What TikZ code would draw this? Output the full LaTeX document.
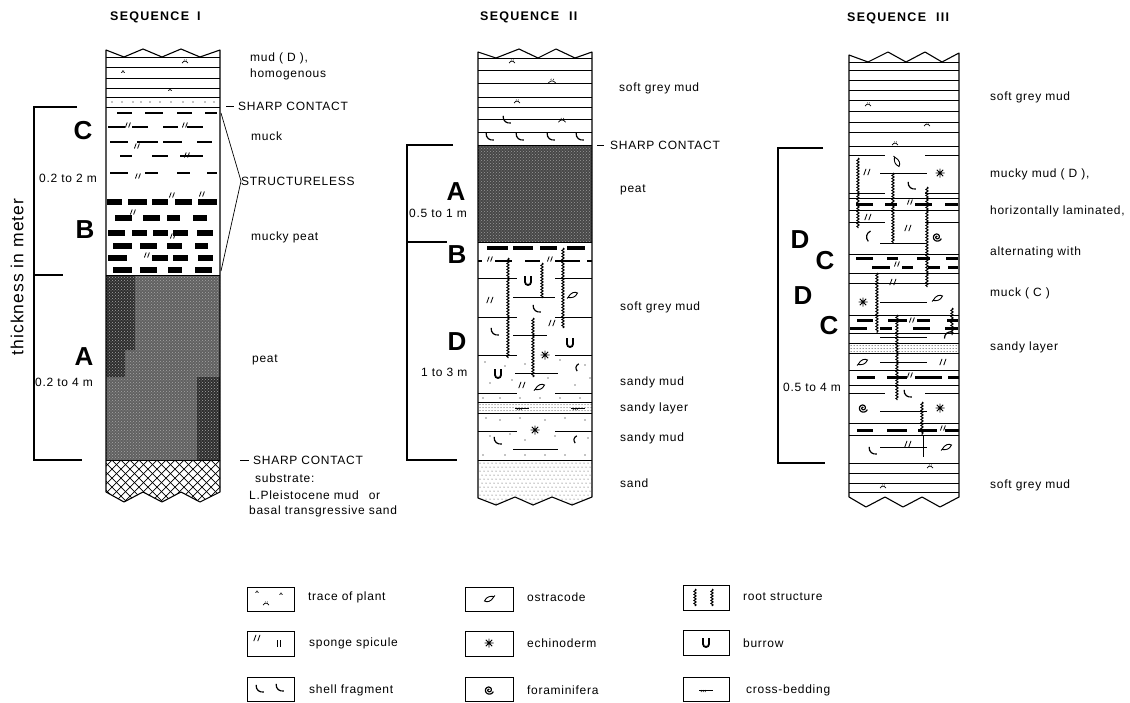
\documentclass[tikz,border=0pt]{standalone}
\usepackage{fontspec}
\setmainfont{Liberation Sans}
\newfontfamily\labfont[LetterSpace=6]{Liberation Sans}
\newfontfamily\titfont[LetterSpace=10]{Liberation Sans}
\usetikzlibrary{patterns,decorations.pathmorphing}
\tikzset{
 lab/.style={font=\labfont\fontsize{12}{14}\selectfont, anchor=west, inner sep=0pt},
 biglet/.style={font=\bfseries\fontsize{26}{28}\selectfont, inner sep=0pt},
 tit/.style={font=\titfont\bfseries\fontsize{12.5}{14}\selectfont, anchor=west, inner sep=0pt},
 side/.style={line width=1.1pt, line join=round},
 thinl/.style={line width=0.7pt},
 brk/.style={line width=1.1pt},
 mk/.style={line width=2.8pt},
 mkp/.style={line width=5.2pt},
 mk3/.style={line width=3pt},
 rootl/.style={line width=1pt, decorate, decoration={snake, amplitude=1.1pt, segment length=3pt}},
 legbox/.style={line width=0.9pt},
 symplant/.pic={\draw[line width=0.7pt] (-3,1) .. controls (-1,-1.5) and (1,-1.5) .. (3,1); \draw[line width=0.5pt] (-1,-1.5)--(-0.5,-2.5) (1,-1.5)--(1.5,-2.5);},
 symsponge/.pic={\begin{scope}[scale=1.25]\draw[line width=0.8pt] (-2.6,2.5)--(-0.8,-2.5) (0.6,2.5)--(2.4,-2.5);\end{scope}},
 symshell/.pic={\begin{scope}[scale=1.3]\draw[line width=1.2pt] (-3,-4) .. controls (-3.2,0) and (-0.5,2) .. (3,1.5);\end{scope}},
 symostra/.pic={\draw[line width=0.9pt] (-5,2.5) .. controls (-2,-3) and (2,-3.5) .. (4.5,-2) .. controls (2.5,2.5) and (-1,3) .. (-5,2.5) -- (-6,3.5);},
 symechino/.pic={\draw[line width=0.9pt] (-4.5,0)--(4.5,0) (0,-4.5)--(0,4.5) (-3.2,-3.2)--(3.2,3.2) (-3.2,3.2)--(3.2,-3.2);},
 symfora/.pic={\draw[line width=1.2pt,domain=60:700,samples=60,smooth,variable=\t] plot ({0.0065*\t*cos(\t)},{-0.0065*\t*sin(\t)});},
 symburrow/.pic={\draw[line width=1.8pt] (-3,-5) -- (-3,1) arc (180:0:3) -- (3,-5);},
 symxbed/.pic={\draw[line width=0.9pt] (-7,0)--(7,0); \draw[line width=0.6pt] (-5,2)--(-4,0) (-3,2)--(-2,0) (-1,2)--(0,0);},
}
\begin{document}
\begin{tikzpicture}[x=1pt,y=-1pt]
\useasboundingbox (0,0) rectangle (1130,702);

% ================= SEQUENCE I =================
\node[tit] (t1) at (110,17) {SEQUENCE\hspace{8pt}I};
% peat
\fill[black!62] (106,275) rectangle (220,460);
\fill[black!82] (106,275) -- (135,275) -- (135,350) -- (125,350) -- (125,377) -- (106,377) -- cycle;
\fill[black!82] (197,377) rectangle (220,460);
\fill[pattern=crosshatch dots, pattern color=black!35] (106,275) rectangle (220,460);
% substrate crosshatch
\begin{scope}
\clip (106,460) -- (220,460) -- (220,492) -- (200,502) -- (181,492) -- (162,502) -- (143,492) -- (124,502) -- (106,492) -- cycle;
\foreach \i in {-50,-41,...,280} {\draw[thinl] (\i,460) -- ++(45,45); \draw[thinl] (\i,460) -- ++(-45,45);}
\end{scope}
% outline
\draw[side] (220,492) -- (200,502) -- (181,492) -- (162,502) -- (143,492) -- (124,502) -- (106,492)
  -- (106,50) -- (124,57) -- (143,49) -- (162,57) -- (181,49) -- (200,57) -- (220,50) -- cycle;
\foreach \y in {57,67,78,88,97,107,275,460} \draw[thinl] (106,\y) -- (220,\y);
\foreach \x in {112,122,133,141,150,160,171,183,193,205,214} \fill (\x,102) circle (0.6);
\pic at (185,62) {symplant}; \pic[scale=0.6] at (123,72) {symplant}; \pic[scale=0.6] at (170,90) {symplant};
% muck C
\foreach \y/\segs in {113/{117/132,145/163,177/192,205/217},127/{108/125,132/148,163/178,187/203},142/{110/128,137/158,163/182,197/212},156/{120/132,152/168,180/203},173/{110/128,145/158,177/190,207/217}}
 {\foreach \a/\b in \segs {\draw[mk] (\a,\y) -- (\b,\y);}}
\foreach \p in {(128,125),(185,125),(137,146),(187,155),(138,176)} \pic[scale=0.8] at \p {symsponge};
% mucky peat B
\foreach \y/\segs in {202/{107/122,128/147,152/168,175/192,198/217},218/{115/132,143/160,167/180,193/207},233/{108/125,132/147,153/168,173/188,197/213},246/{113/132,140/157,167/182,195/208},258/{108/127,152/168,173/188,198/213},270/{113/132,140/157,168/182,195/212}}
 {\foreach \a/\b in \segs {\draw[mkp] (\a,\y) -- (\b,\y);}}
\foreach \p in {(172,195),(202,194),(133,212),(173,236),(147,255)} \pic[scale=0.8] at \p {symsponge};
% bracket
\draw[brk] (77,107) -- (34,107) -- (34,460) -- (82,460);
\draw[brk] (34,275) -- (63,275);
\node[font=\labfont\fontsize{17.5}{19}\selectfont, rotate=90, inner sep=0pt] (thick) at (17,277) {thickness in meter};
\node[biglet] (c1) at (83,131) {C};
\node[lab] (c1t) at (39,178) {0.2 to 2 m};
\node[biglet] (b1) at (85,230) {B};
\node[biglet] (a1) at (84,357) {A};
\node[lab] (a1t) at (35,382) {0.2 to 4 m};
% right labels
\node[lab] (l1a) at (250,58) {mud ( D ),};
\node[lab] (l1b) at (250,74) {homogenous};
\draw[thinl] (226,106) -- (234,106);
\node[lab] (l1c) at (238,106) {SHARP CONTACT};
\node[lab] (l1d) at (251,136) {muck};
\node[lab] (l1e) at (241,181) {STRUCTURELESS};
\draw[thinl] (221,113) -- (l1e.west) -- (221,271);
\node[lab] (l1f) at (251,237) {mucky peat};
\node[lab] (l1g) at (252,360) {peat};
\draw[thinl] (240,460) -- (249,460);
\node[lab] (l1h) at (253,460) {SHARP CONTACT};
\node[lab] (l1i) at (255,478) {substrate:};
\node[lab] (l1j) at (249,495) {L.Pleistocene mud\hspace{6pt} or};
\node[lab] (l1k) at (249,511) {basal transgressive sand};

% ================= SEQUENCE II =================
\node[tit] (t2) at (480,17) {SEQUENCE\hspace{10pt}II};
\fill[black!72] (478,145) rectangle (592,242);
\fill[pattern=crosshatch dots, pattern color=black!40] (478,145) rectangle (592,242);
% sand
\begin{scope}
\clip (478,460) -- (592,460) -- (592,497) -- (572,505) -- (552,497) -- (533,505) -- (515,497) -- (496,505) -- (478,498) -- cycle;
\foreach \yy in {463,471,...,503} {\foreach \xx in {480,484,...,592} \fill[black!80] (\xx,\yy) circle (0.5);}
\foreach \yy in {467,475,...,503} {\foreach \xx in {482,486,...,592} \fill[black!80] (\xx,\yy) circle (0.5);}
\end{scope}
% sandy layer
\foreach \yy in {404.5,407.5,410.5} {\foreach \xx in {480,483,...,591} \fill[black!80] (\xx,\yy) circle (0.5);}
\draw[side] (592,497) -- (572,505) -- (552,497) -- (533,505) -- (515,497) -- (496,505) -- (478,498)
  -- (478,52) -- (496,58) -- (519,49) -- (538,58) -- (556,49) -- (575,58) -- (592,52) -- cycle;
\foreach \y in {58,70,83,97,107,119,132,145,242,402,413,460} \draw[thinl] (478,\y) -- (592,\y);
\foreach \y in {278,317,355,393,431} {\draw[thinl] (478,\y) -- (517,\y); \draw[thinl] (555,\y) -- (592,\y);}
\foreach \y/\a/\b in {297/513/555,335/513/547,373/515/558,449/513/558} \draw[thinl] (\a,\y) -- (\b,\y);
% mud symbols
\pic at (512,62) {symplant}; \pic[scale=1.3] at (552,82) {symplant}; \pic at (517,102) {symplant};
\pic at (507,121) {symshell}; \pic[scale=1.2] at (562,121) {symplant};
\foreach \x in {490,520,551,580} \pic at (\x,138) {symshell};
% B muck
\foreach \a/\b in {487/508,513/533,540/557,567/585} \draw[line width=4.5pt] (\a,248) -- (\b,248);
\foreach \a/\b in {478/482,495/512,525/540,555/580,587/592} \draw[line width=2.8pt] (\a,261) -- (\b,261);
\pic[scale=0.8] at (490,259) {symsponge}; \pic[scale=0.8] at (550,259) {symsponge};
% roots
\draw[rootl] (508,258) -- (508,358);
\draw[rootl] (542,263) -- (542,298);
\draw[rootl] (563,248) -- (563,328);
\draw[rootl] (533,318) -- (533,377);
% D symbols
\pic at (528,281) {symburrow};
\pic at (490,300) {symsponge};
\pic at (573,295) {symostra};
\pic at (537,310) {symshell};
\pic at (552,323) {symsponge};
\pic at (495,333) {symshell};
\pic at (570,343) {symburrow};
\pic at (545,355) {symechino};
\pic at (498,374) {symburrow};
\pic[scale=0.7,rotate=-60] at (577,368) {symshell};
\pic at (522,385) {symsponge};
\pic at (540,387) {symostra};
\pic at (522,408) {symxbed};
\pic at (578,408) {symxbed};
\pic at (535,430) {symechino};
\pic at (498,442) {symshell};
\pic[scale=0.7,rotate=-60] at (575,440) {symshell};
\foreach \p in {(485,362),(505,366),(525,364),(560,360),(585,365),(490,383),(512,380),(548,378),(575,385),(590,378),(483,398),(500,398),(520,398),(540,398),(560,398),(580,398),(486,418),(500,420),(520,418),(545,420),(565,418),(585,420),(490,436),(510,434),(525,440),(555,436),(588,438),(483,455),(505,455),(525,455),(545,455),(565,455),(585,455)}
  \fill \p circle (0.6);
% bracket
\draw[brk] (453,145) -- (407,145) -- (407,460) -- (457,460);
\draw[brk] (407,242) -- (447,242);
\node[biglet] (a2) at (456,192) {A};
\node[lab] (a2t) at (409,213) {0.5 to 1 m};
\node[biglet] (b2) at (457,255) {B};
\node[biglet] (d2) at (457,342) {D};
\node[lab] (d2t) at (421,372) {1 to 3 m};
% right labels
\node[lab] (l2a) at (619,88) {soft grey mud};
\draw[thinl] (597,145) -- (604,145);
\node[lab] (l2b) at (610,145) {SHARP CONTACT};
\node[lab] (l2c) at (620,190) {peat};
\node[lab] (l2d) at (620,307) {soft grey mud};
\node[lab] (l2e) at (620,382) {sandy mud};
\node[lab] (l2f) at (620,408) {sandy layer};
\node[lab] (l2g) at (620,438) {sandy mud};
\node[lab] (l2h) at (620,483) {sand};

% ================= SEQUENCE III =================
\node[tit] (t3) at (847,18) {SEQUENCE\hspace{10pt}III};
\foreach \yy in {345.5,348.5,351.5} {\foreach \xx in {851,854,...,958} \fill[black!80] (\xx,\yy) circle (0.5);}
\draw[side] (959,497) -- (940,507) -- (922,497) -- (903,507) -- (885,497) -- (866,507) -- (849,497)
  -- (849,55) -- (868,62) -- (888,52) -- (906,62) -- (925,52) -- (942,62) -- (959,53) -- cycle;
\foreach \y in {62,70,80,90,100,111,122,132,146,198,210,254,273,283,315,333,343,353,370,385,423,435,463,473,483,492} \draw[thinl] (849,\y) -- (959,\y);
\foreach \y in {155,193,222,393} {\draw[thinl] (849,\y) -- (885,\y); \draw[thinl] (925,\y) -- (959,\y);}
\foreach \y in {173,243,302,337,362,411,447} \draw[thinl] (880,\y) -- (927,\y);
\draw[thinl] (923,435) -- (923,457);
\foreach \y/\segs in {204/{856/873,885/897,915/932,945/958},258/{856/873,887/898,917/930,946/958},267/{872/890,902/913,928/940,948/958},320/{857/873,888/907,917/930,947/958},328/{850/867,880/892,913/930,945/958},377/{857/875,887/907,915/942,948/959},430/{857/873,887/907,918/937,945/959}}
 {\foreach \a/\b in \segs {\draw[mk3] (\a,\y) -- (\b,\y);}}
\foreach \p in {(910,202),(897,264),(912,320),(910,375),(943,428)} \pic[scale=0.8] at \p {symsponge};
% roots
\draw[rootl] (858,158) -- (858,228);
\draw[rootl] (893,173) -- (893,243);
\draw[rootl] (927,187) -- (927,287);
\draw[rootl] (877,273) -- (877,333);
\draw[rootl] (897,315) -- (897,400);
\draw[rootl] (952,308) -- (952,335);
\draw[rootl] (922,402) -- (922,435);
% symbols
\pic at (868,105) {symplant}; \pic at (927,125) {symplant}; \pic at (895,144) {symplant};
\pic at (930,467) {symplant}; \pic at (883,487) {symplant};
\pic[rotate=-90] at (897,162) {symostra};
\pic at (867,172) {symsponge};
\pic at (940,173) {symechino};
\pic at (912,187) {symshell};
\pic at (868,217) {symsponge};
\pic[rotate=-60] at (868,237) {symshell};
\pic at (908,228) {symsponge};
\pic at (937,237) {symfora};
\pic at (893,282) {symsponge};
\pic at (863,302) {symechino};
\pic at (938,298) {symostra};
\pic[rotate=-100] at (947,335) {symshell};
\pic at (863,362) {symostra};
\pic at (943,362) {symsponge};
\pic at (908,395) {symshell};
\pic at (863,408) {symfora};
\pic at (940,408) {symechino};
\pic at (908,444) {symsponge};
\pic at (873,452) {symshell};
\pic at (947,447) {symostra};
% bracket
\draw[brk] (823,148) -- (778,148) -- (778,463) -- (825,463);
\node[biglet] (d3a) at (800,240) {D};
\node[biglet] (c3a) at (825,261) {C};
\node[biglet] (d3b) at (803,296) {D};
\node[biglet] (c3b) at (829,326) {C};
\node[lab] (d3t) at (783,387) {0.5 to 4 m};
% right labels
\node[lab] (l3a) at (990,97) {soft grey mud};
\node[lab] (l3b) at (990,174) {mucky mud ( D ),};
\node[lab] (l3c) at (990,211) {horizontally laminated,};
\node[lab] (l3d) at (990,252) {alternating with};
\node[lab] (l3e) at (990,293) {muck ( C )};
\node[lab] (l3f) at (990,347) {sandy layer};
\node[lab] (l3g) at (990,485) {soft grey mud};

% ================= LEGEND =================
\draw[legbox] (247,587) rectangle (294,611);
\pic at (266,604) {symplant}; \pic[scale=0.5] at (257,592) {symplant}; \pic[scale=0.5] at (281,594) {symplant};
\node[lab] (k1) at (308,597) {trace of plant};
\draw[legbox] (247,631) rectangle (294,656);
\pic at (257,638) {symsponge}; \draw[line width=0.9pt] (277,640) -- (277,647) (280,640) -- (280,647);
\node[lab] (k2) at (309,643) {sponge spicule};
\draw[legbox] (247,677) rectangle (294,701);
\pic at (260,690) {symshell}; \pic at (280,689) {symshell};
\node[lab] (k3) at (309,690) {shell fragment};
\draw[legbox] (465,587) rectangle (513,611);
\pic[rotate=180] at (489,599) {symostra};
\node[lab] (k4) at (527,597) {ostracode};
\draw[legbox] (465,631) rectangle (513,656);
\pic at (489,643) {symechino};
\node[lab] (k5) at (527,643) {echinoderm};
\draw[legbox] (465,677) rectangle (513,701);
\pic at (489,690) {symfora};
\node[lab] (k6) at (527,690) {foraminifera};
\draw[legbox] (683,585) rectangle (729,610);
\draw[rootl] (695,589) -- (695,606); \draw[rootl] (712,589) -- (712,606);
\node[lab] (k7) at (743,597) {root structure};
\draw[legbox] (683,630) rectangle (729,655);
\pic at (706,643) {symburrow};
\node[lab] (k8) at (743,643) {burrow};
\draw[legbox] (683,677) rectangle (729,701);
\pic at (706,690) {symxbed};
\node[lab] (k9) at (746,690) {cross-bedding};
\end{tikzpicture}
\end{document}
